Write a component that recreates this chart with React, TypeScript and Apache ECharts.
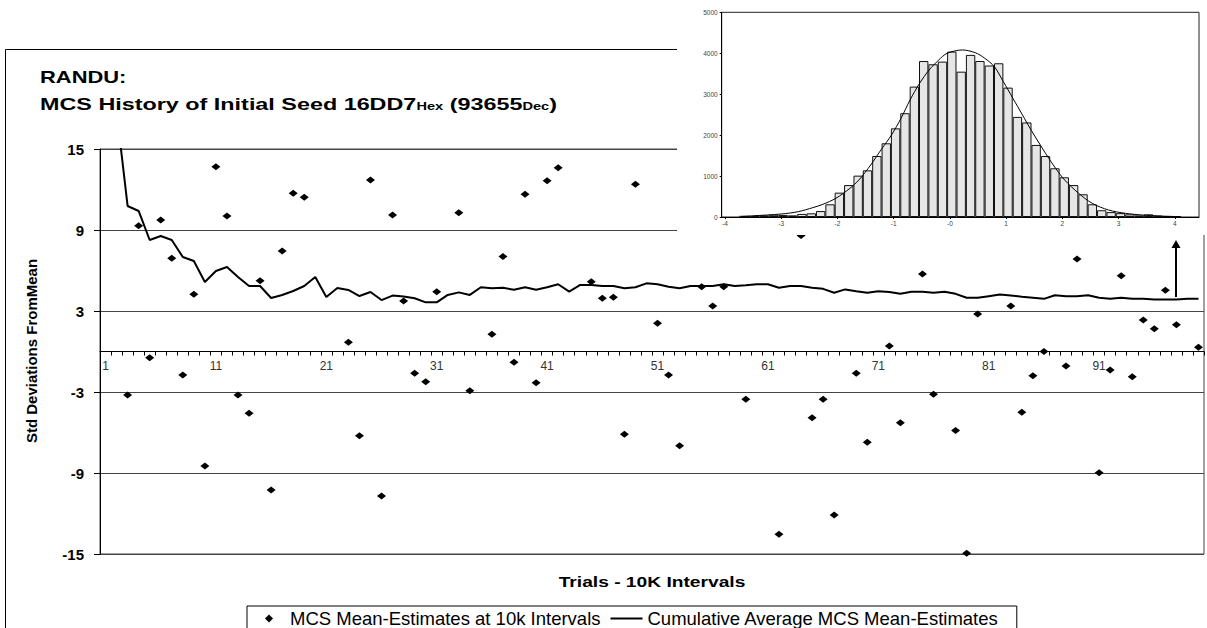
import React, { useEffect, useRef } from "react";
import * as echarts from "echarts";

const FONT = '"Liberation Sans", Arial, sans-serif';

// ---- main chart data ----
const trialLabels: string[] = Array.from({ length: 100 }, (_, i) => String(i + 1));
const yTickValues = [-15, -9, -3, 3, 9, 15];

// MCS mean-estimates at each 10k interval (null = not visible in the reference)
const estimates: (number | null)[] = [
  null, null, -3.22, 9.32, -0.46, 9.74, 6.9, -1.74, 4.24, -8.48,
  13.69, 10.04, -3.22, -4.58, 5.25, -10.26, 7.44, 11.72, 11.42, null,
  null, null, 0.68, -6.24, 12.7, -10.7, 10.11, 3.74, -1.61, -2.24,
  4.43, null, 10.28, -2.9, null, 1.27, 7.03, -0.8, 11.64, -2.31,
  12.65, 13.62, null, null, 5.17, 3.94, 4.01, -6.13, 12.38, null,
  2.09, -1.74, -6.98, null, 4.8, 3.37, 4.8, null, -3.54, null,
  null, -13.54, null, 8.6, -4.9, -3.54, -12.11, null, -1.61, -6.73,
  null, 0.41, -5.27, null, 5.74, -3.17, null, -5.86, -14.95, 2.78,
  8.9, null, 3.37, -4.5, -1.79, 0.0, null, -1.07, 6.85, null,
  -8.98, -1.37, 5.62, -1.87, 2.33, 1.69, 4.53, 1.99, null, 0.31,
];

// cumulative average of the estimates
const cumAvg: number[] = [
  19.0, 17.8, 10.78, 10.41, 8.26, 8.56, 8.26, 7.0, 6.7, 5.15,
  5.96, 6.26, 5.52, 4.85, 4.85, 3.96, 4.19, 4.48, 4.85, 5.52,
  4.04, 4.7, 4.56, 4.11, 4.41, 3.81, 4.14, 4.08, 3.94, 3.64,
  3.64, 4.19, 4.38, 4.19, 4.76, 4.68, 4.72, 4.58, 4.76, 4.58,
  4.76, 4.98, 4.43, 4.93, 4.93, 4.85, 4.85, 4.68, 4.76, 5.05,
  4.98, 4.8, 4.68, 4.85, 4.85, 4.85, 4.98, 4.85, 4.9, 4.98,
  4.98, 4.72, 4.85, 4.85, 4.72, 4.64, 4.35, 4.6, 4.47, 4.35,
  4.47, 4.4, 4.27, 4.42, 4.42, 4.35, 4.42, 4.27, 3.98, 3.98,
  4.1, 4.22, 4.15, 4.05, 3.98, 3.9, 4.17, 4.1, 4.1, 4.17,
  3.98, 3.9, 3.98, 3.9, 3.9, 3.85, 3.85, 3.85, 3.9, 3.9,
];

const scatterName = "MCS Mean-Estimates at 10k Intervals";
const lineName = "Cumulative Average MCS Mean-Estimates";

// ---- inset histogram data ----
const binCenters: number[] = [
  -3.633, -3.467, -3.3, -3.133, -2.967, -2.8, -2.633, -2.467, -2.3, -2.133,
  -1.967, -1.8, -1.633, -1.467, -1.3, -1.133, -0.967, -0.8, -0.633, -0.467,
  -0.3, -0.133, 0.033, 0.2, 0.367, 0.533, 0.7, 0.867, 1.033, 1.2,
  1.367, 1.533, 1.7, 1.867, 2.033, 2.2, 2.367, 2.533, 2.7, 2.867,
  3.033, 3.2, 3.367, 3.533, 3.7, 3.867, 4.033,
];
const binCounts: number[] = [
  15, 25, 40, 55, 50, 40, 75, 90, 145, 310,
  595, 780, 1010, 1140, 1490, 1800, 2165, 2535, 3185, 3810,
  3730, 3795, 4040, 3550, 3960, 3810, 3700, 3755, 3160, 2445,
  2310, 1760, 1490, 1190, 970, 780, 555, 310, 165, 120,
  95, 65, 40, 65, 35, 25, 15,
];
const curveX: number[] = [
  -3.75, -3.5, -3.0, -2.7, -2.44, -2.26, -2.03, -1.78, -1.62, -1.41,
  -1.22, -1.04, -0.87, -0.71, -0.54, -0.37, -0.2, -0.05, 0.22, 0.45,
  0.62, 0.79, 0.95, 1.12, 1.29, 1.45, 1.7, 1.88, 2.04, 2.29,
  2.53, 2.82, 3.12, 3.42, 3.72, 4.1,
];
const curveY: number[] = [
  15, 30, 73, 130, 228, 310, 456, 700, 904, 1270,
  1653, 2003, 2411, 2858, 3266, 3591, 3835, 3999, 4080, 4014,
  3877, 3672, 3305, 2899, 2492, 2110, 1556, 1189, 904, 578,
  334, 171, 90, 49, 24, 8,
];
const histTicks = [-4, -3, -2, -1, 0, 1, 2, 3, 4];

export default function App() {
  const mainRef = useRef<HTMLDivElement>(null);
  const insetRef = useRef<HTMLDivElement>(null);

  useEffect(() => {
    const main = echarts.init(mainRef.current!, null, { renderer: "svg" });
    const inset = echarts.init(insetRef.current!, null, { renderer: "svg" });

    const gridTop = 149;
    const gridHeight = 405;
    // y = 0 lies half-way down the -15..15 range: move the category axis there
    const zeroOffset = -gridHeight / 2;

    const mainOption: any = {
      animation: false,
      backgroundColor: "#fff",
      textStyle: { fontFamily: FONT },
      grid: {
        left: 100, top: gridTop, width: 1104, height: gridHeight,
        show: true, borderColor: "#444", borderWidth: 1, containLabel: false,
      },
      xAxis: {
        type: "category",
        data: trialLabels,
        boundaryGap: true,
        position: "bottom",
        offset: zeroOffset,
        axisLine: { onZero: false, lineStyle: { color: "#000", width: 1 } },
        axisTick: { show: true, interval: 0, length: 4, lineStyle: { color: "#000" } },
        axisLabel: { interval: 9, fontSize: 12, color: "#333", margin: 8, fontFamily: FONT },
        splitLine: { show: false },
      },
      yAxis: {
        type: "value", min: -15, max: 15, interval: 6,
        axisLine: { show: true, onZero: false, lineStyle: { color: "#000" } },
        axisTick: { show: true, length: 6, lineStyle: { color: "#000" } },
        axisLabel: {
          fontSize: 15, fontWeight: "bold", color: "#000", margin: 16, fontFamily: FONT,
          customValues: yTickValues,
        },
        splitLine: { show: true, lineStyle: { color: "#444", width: 1 } },
      },
      legend: {
        left: 247, top: 606,
        orient: "horizontal",
        borderColor: "#000", borderWidth: 1,
        padding: [3, 18, 4, 18],
        itemWidth: 32, itemHeight: 8, itemGap: 10,
        symbolKeepAspect: true,
        textStyle: { fontSize: 18.5, color: "#000", fontFamily: FONT },
        data: [
          { name: scatterName, icon: "path://M4,0 L8,4 L4,8 L0,4 Z", itemStyle: { color: "#000" } },
          { name: lineName, icon: "path://M0,0 H32 V2 H0 Z", itemStyle: { color: "#000" } },
        ],
      },
      series: [
        {
          name: lineName, type: "line", data: cumAvg,
          symbol: "none", showSymbol: false,
          lineStyle: { color: "#000", width: 2 }, itemStyle: { color: "#000" },
          z: 2,
        },
        {
          name: scatterName, type: "scatter",
          data: estimates.map((v) => (v === null ? "-" : v)),
          symbol: "diamond", symbolSize: [9, 7],
          itemStyle: { color: "#000", opacity: 1 }, z: 3,
        },
      ],
      graphic: [
        {
          type: "rect", silent: true, z: -1,
          shape: { x: 5.5, y: 49.5, width: 1300, height: 700 },
          style: { fill: "none", stroke: "#000", lineWidth: 1 },
        },
        {
          type: "text", x: 40, y: 78, scaleX: 1.37,
          style: {
            text: "RANDU:", fontSize: 16, fontWeight: "bold", fontFamily: FONT,
            fill: "#000", textVerticalAlign: "middle", textAlign: "left",
          },
        },
        {
          type: "text", x: 40, y: 102, scaleX: 1.46,
          style: {
            text: "{b|MCS History of Initial Seed 16DD7}{s|Hex}{b| (93655}{s|Dec}{b|)}",
            fill: "#000", textVerticalAlign: "middle", textAlign: "left",
            rich: {
              b: { fontSize: 16, fontWeight: "bold", fontFamily: FONT, lineHeight: 20, verticalAlign: "bottom" },
              s: { fontSize: 10, fontWeight: "bold", fontFamily: FONT, lineHeight: 10, verticalAlign: "bottom" },
            },
          },
        },
        {
          type: "text", x: 31, y: 351, rotation: Math.PI / 2,
          style: {
            text: "Std Deviations FromMean", fontSize: 15, fontWeight: "bold", fontFamily: FONT,
            fill: "#000", textAlign: "center", textVerticalAlign: "middle",
          },
        },
        {
          type: "text", x: 652, y: 582, scaleX: 1.28,
          style: {
            text: "Trials - 10K Intervals", fontSize: 15, fontWeight: "bold", fontFamily: FONT,
            fill: "#000", textAlign: "center", textVerticalAlign: "middle",
          },
        },
        {
          type: "line", z: 10,
          shape: { x1: 1176, y1: 297, x2: 1176, y2: 247 },
          style: { stroke: "#000", lineWidth: 2 },
        },
        {
          type: "polygon", z: 10,
          shape: { points: [[1171.5, 248], [1176, 240], [1180.5, 248]] },
          style: { fill: "#000" },
        },
      ],
    };

    const insetOption: any = {
      animation: false,
      backgroundColor: "#fff",
      textStyle: { fontFamily: FONT },
      grid: {
        left: 44.7, top: 12.3, width: 477.3, height: 204.7,
        show: true, borderColor: "#222", borderWidth: 1, containLabel: false,
      },
      xAxis: {
        type: "value", min: -4.06, max: 4.43,
        axisLine: { onZero: false, lineStyle: { color: "#000" } },
        axisTick: { show: true, length: 2, customValues: histTicks, lineStyle: { color: "#000" } },
        axisLabel: {
          customValues: histTicks, fontSize: 6.5, color: "#444", margin: 3, fontFamily: FONT,
          formatter: (v: number) => (v === 0 ? "-0" : String(v)),
        },
        splitLine: { show: false },
      },
      yAxis: {
        type: "value", min: 0, max: 5000, interval: 1000,
        axisLine: { show: true, onZero: false, lineStyle: { color: "#000" } },
        axisTick: { show: true, length: 2, lineStyle: { color: "#000" } },
        axisLabel: {
          fontSize: 6.5, color: "#444", margin: 4, fontFamily: FONT,
          formatter: (v: number) => String(v),
        },
        splitLine: { show: false },
      },
      series: [
        {
          type: "bar",
          data: binCenters.map((c, i) => [c, binCounts[i]]),
          barWidth: 9.375,
          itemStyle: { color: "#e6e6e6", borderColor: "#111", borderWidth: 1 },
          z: 2,
        },
        {
          type: "line",
          data: curveX.map((x, i) => [x, curveY[i]]),
          smooth: 0.3, symbol: "none", showSymbol: false,
          lineStyle: { color: "#000", width: 1 }, z: 3,
        },
      ],
    };

    main.setOption(mainOption);
    inset.setOption(insetOption);
    return () => {
      main.dispose();
      inset.dispose();
    };
  }, []);

  return (
    <div style={{ position: "absolute", left: 0, top: 0, width: 1207, height: 628, background: "#fff", overflow: "hidden" }}>
      <div ref={mainRef} style={{ position: "absolute", left: 0, top: 0, width: 1207, height: 628 }} />
      <div ref={insetRef} style={{ position: "absolute", left: 677, top: 0, width: 530, height: 235, background: "#fff" }} />
    </div>
  );
}
